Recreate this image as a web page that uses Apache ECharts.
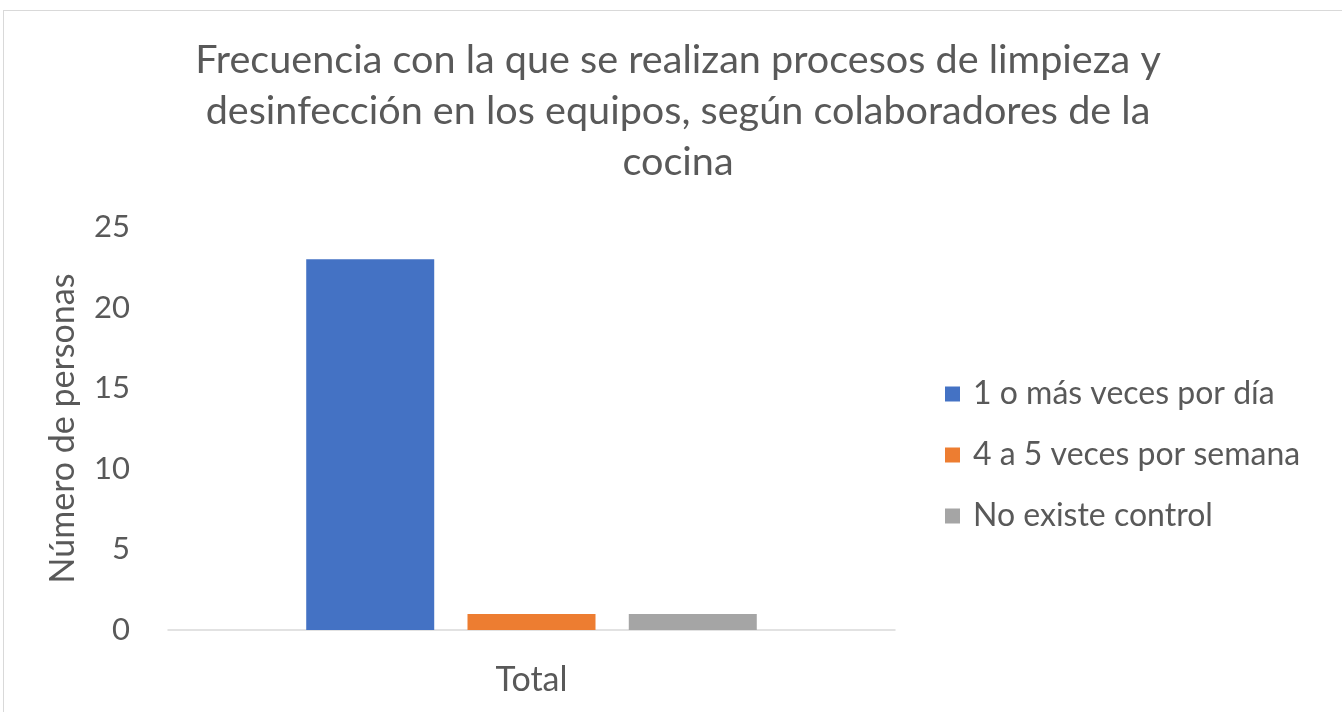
<!DOCTYPE html>
<html lang="es">
<head>
    <meta charset="UTF-8">
    <title>Frecuencia de limpieza</title>
    <script src="https://cdn.jsdelivr.net/npm/echarts@6/dist/echarts.min.js"></script>
    <style>
html, body { margin:0; padding:0; background:#fff; }
#main {
    width:1342px;
    height:712px;
}
.frame {
    position:absolute;
    left:3px; top:10px;
    width:1345px; height:710px;
    border:1px solid #d9d9d9;
    box-sizing:border-box;
    pointer-events:none;
}
    </style>
</head>
<body>
<div class="frame"></div>
<div id="main"></div>
<script type="text/javascript">
    var categories = ['Total'];
    var seriesNames = ['1 o más veces por día', '4 a 5 veces por semana', 'No existe control'];
    var values1 = [23];
    var values2 = [1];
    var values3 = [1];
    var colors = ['#4472c4', '#ed7d31', '#a5a5a5'];

    var font = 'Lato, "Open Sans", sans-serif';
    var myChart = echarts.init(document.getElementById('main'));

    function bar(name, data, color) {
        return {
            name: name,
            type: 'bar',
            data: data,
            barWidth: 128,
            barGap: '26%',
            itemStyle: { color: color }
        };
    }

    myChart.setOption({
        animation: false,
        title: {
            text: 'Frecuencia con la que se realizan procesos de limpieza y\ndesinfección en los equipos, según colaboradores de la\ncocina',
            left: 673,
            top: 30,
            textAlign: 'center',
            textStyle: {
                fontFamily: font,
                fontSize: 39.6,
                fontWeight: 'normal',
                color: '#595959',
                lineHeight: 51
            }
        },
        legend: {
            orient: 'vertical',
            left: 940,
            top: 373,
            itemWidth: 15,
            itemHeight: 15,
            itemGap: 29,
            icon: 'rect',
            textStyle: {
                fontFamily: font,
                fontSize: 32,
                color: '#595959',
                padding: [0, 0, 0, 8]
            },
            data: seriesNames
        },
        grid: {
            left: 168,
            right: 447,
            top: 227,
            bottom: 82
        },
        xAxis: {
            type: 'category',
            data: categories,
            axisLine: { lineStyle: { color: '#d9d9d9', width: 1.5 } },
            axisTick: { show: false },
            axisLabel: {
                margin: 33,
                fontFamily: font,
                fontSize: 34,
                color: '#595959'
            }
        },
        yAxis: {
            type: 'value',
            min: 0,
            max: 25,
            interval: 5,
            name: 'Número de personas',
            nameLocation: 'middle',
            nameGap: 88,
            nameTextStyle: {
                fontFamily: font,
                fontSize: 34,
                color: '#595959'
            },
            axisLine: { show: false },
            axisTick: { show: false },
            splitLine: { show: false },
            axisLabel: {
                margin: 38,
                fontFamily: font,
                fontSize: 31,
                color: '#595959'
            }
        },
        series: [
            bar(seriesNames[0], values1, colors[0]),
            bar(seriesNames[1], values2, colors[1]),
            bar(seriesNames[2], values3, colors[2])
        ]
    });
</script>
</body>
</html>
